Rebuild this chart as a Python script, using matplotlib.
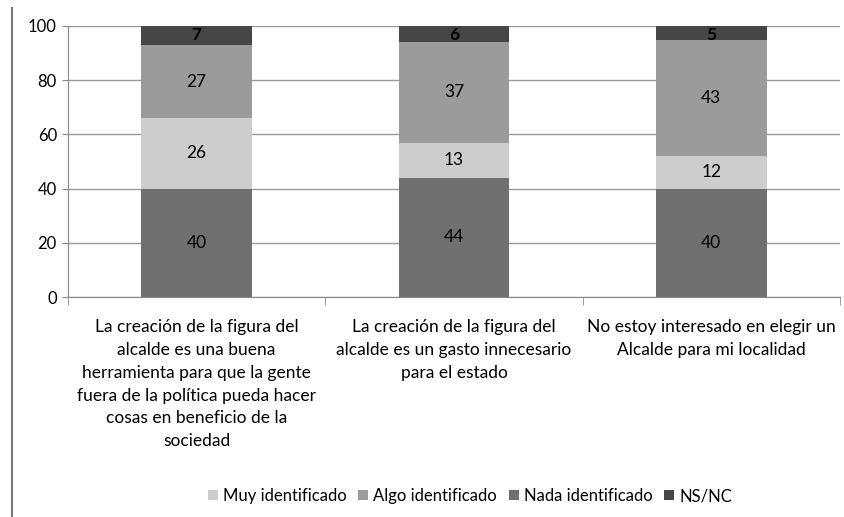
import matplotlib
matplotlib.use("Agg")
import matplotlib.pyplot as plt
from matplotlib.lines import Line2D

categories = [
    "La creación de la figura del\nalcalde es una buena\nherramienta para que la gente\nfuera de la política pueda hacer\ncosas en beneficio de la\nsociedad",
    "La creación de la figura del\nalcalde es un gasto innecesario\npara el estado",
    "No estoy interesado en elegir un\nAlcalde para mi localidad",
]
series_names = ["Muy identificado", "Algo identificado", "Nada identificado", "NS/NC"]
nada = [40, 44, 40]
muy = [26, 13, 12]
algo = [27, 37, 43]
nsnc = [7, 6, 5]
y_ticks = [0, 20, 40, 60, 80, 100]

colors = {"Muy identificado": "#cdcdcd", "Algo identificado": "#9b9b9b",
          "Nada identificado": "#707070", "NS/NC": "#464646"}

plt.rcParams['font.family'] = ['Lato', 'DejaVu Sans']

fig = plt.figure(figsize=(8.45, 5.17), dpi=100)
ax = fig.add_axes([68/845, 1-297/517, (840-68)/845, (297-26)/517])

x = list(range(len(categories)))
width = 0.43
stack_order = [("Nada identificado", nada), ("Muy identificado", muy),
               ("Algo identificado", algo), ("NS/NC", nsnc)]
bottom = [0]*len(x)
bars = {}
for name, vals in stack_order:
    b = ax.bar(x, vals, width, bottom=bottom, color=colors[name], zorder=3, label=name)
    bars[name] = b
    for xi, v, bt in zip(x, vals, bottom):
        if name == "NS/NC":
            ax.text(xi, bt + v - 0.2, str(v), ha="center", va="top", fontsize=12.5,
                    fontweight="bold", color="black", zorder=4)
        else:
            ax.text(xi, bt + v/2, str(v), ha="center", va="center", fontsize=12.5,
                    color="black", zorder=4)
    bottom = [a + b_ for a, b_ in zip(bottom, vals)]

ax.set_xlim(-0.5, len(x) - 0.5)
ax.set_ylim(0, 100)
ax.set_yticks(y_ticks)
ax.tick_params(axis="y", labelsize=12, length=4, color="#888888", pad=4)
ax.yaxis.grid(True, color="#999999", linewidth=1.0, zorder=0)
ax.set_xticks(x)
ax.set_xticklabels(categories, fontsize=12.5, linespacing=1.52)
ax.tick_params(axis="x", length=0, pad=16)
ax.set_xticks([-0.5, 0.5, 1.5, 2.5], minor=True)
ax.tick_params(axis="x", which="minor", length=6, color="#888888")
for s in ["top", "right"]:
    ax.spines[s].set_visible(False)
for s in ["left", "bottom"]:
    ax.spines[s].set_color("#888888")
    ax.spines[s].set_zorder(5)

order = ["Muy identificado", "Algo identificado", "Nada identificado", "NS/NC"]
handles = [bars[n] for n in order]
fig.legend(handles, order, loc="center", bbox_to_anchor=(470/845, 1-496/517), ncol=4,
           frameon=False, fontsize=12, handlelength=0.6, handleheight=0.6,
           handletextpad=0.3, columnspacing=0.7)

fig.add_artist(Line2D([12/845, 12/845], [0, 1-8/517], transform=fig.transFigure,
                      color="#777777", linewidth=1.5))

fig.savefig("out.png", dpi=100)
